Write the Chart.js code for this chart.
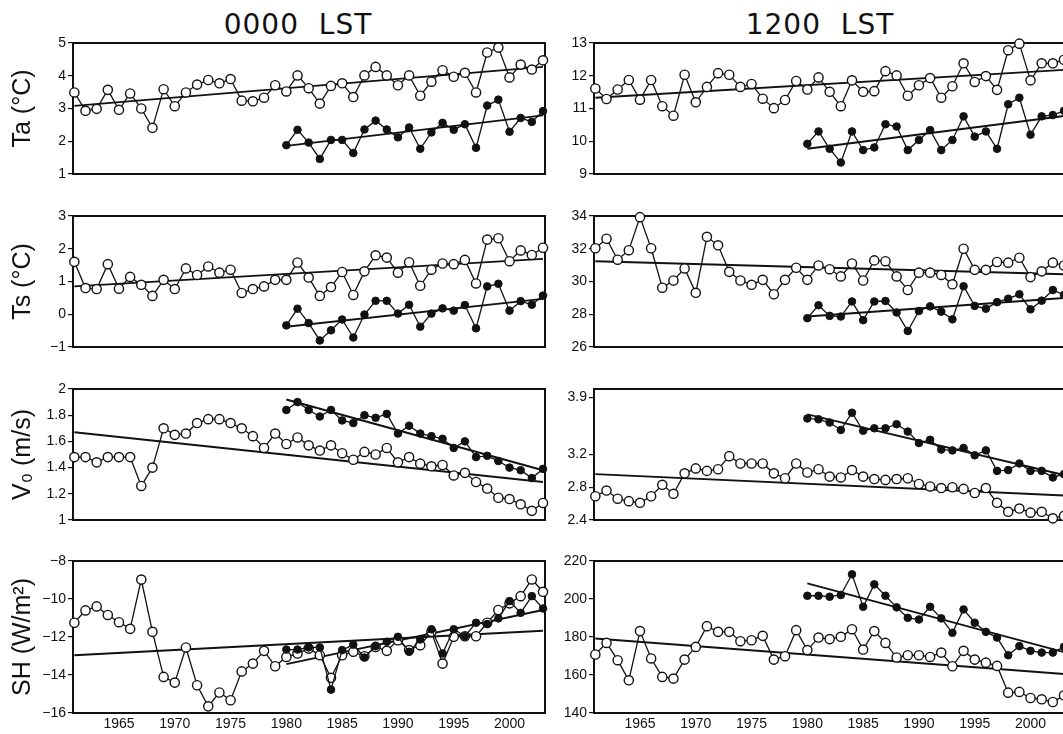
<!DOCTYPE html>
<html>
<head>
<meta charset="utf-8">
<script src="https://cdn.jsdelivr.net/npm/chart.js@4.4.1/dist/chart.umd.min.js"></script>
<style>
  body { margin: 0; width: 1063px; height: 734px; overflow: hidden; background: #fff; position: relative; }
  canvas { position: absolute; }
  .colTitle {
    position: absolute; top: 10px; width: 300px; height: 30px; line-height: 30px;
    text-align: center; font-family: "DejaVu Sans", sans-serif; font-size: 28px;
    letter-spacing: 1px; white-space: pre; color: #111;
  }
</style>
</head>
<body>
<div class="colTitle" style="left:148px">0000  LST</div>
<div class="colTitle" style="left:670px">1200  LST</div>

<canvas id="c00"></canvas><canvas id="c01"></canvas>
<canvas id="c10"></canvas><canvas id="c11"></canvas>
<canvas id="c20"></canvas><canvas id="c21"></canvas>
<canvas id="c30"></canvas><canvas id="c31"></canvas>

<script>
/* YEARS */

const years = [1961, 1962, 1963, 1964, 1965, 1966, 1967, 1968, 1969, 1970,
  1971, 1972, 1973, 1974, 1975, 1976, 1977, 1978, 1979, 1980,
  1981, 1982, 1983, 1984, 1985, 1986, 1987, 1988, 1989, 1990,
  1991, 1992, 1993, 1994, 1995, 1996, 1997, 1998, 1999, 2000,
  2001, 2002, 2003];
const yearsSince1980 = years.slice(19);
const openTrendYears = [1961, 2003];
const filledTrendYears = [1980, 2003];
const xTicks = [1965, 1970, 1975, 1980, 1985, 1990, 1995, 2000];

/* Ta */

const taOpen0000 = [3.49, 2.93, 2.99, 3.57, 2.96, 3.46, 3.00, 2.41, 3.59, 3.07,
  3.49, 3.73, 3.87, 3.77, 3.90, 3.24, 3.22, 3.33, 3.71, 3.52,
  4.01, 3.62, 3.15, 3.69, 3.77, 3.35, 4.01, 4.27, 4.01, 3.71,
  4.01, 3.39, 3.82, 4.17, 3.97, 4.09, 3.49, 4.71, 4.86, 3.95,
  4.34, 4.19, 4.47];
const taFilled0000 = [1.88, 2.35, 1.96, 1.46, 2.04, 2.04, 1.64, 2.36, 2.63, 2.36,
  2.12, 2.42, 1.77, 2.27, 2.56, 2.35, 2.52, 1.80, 3.09, 3.27,
  2.29, 2.71, 2.59, 2.92];
const taOpenTrend0000 = [3.08, 4.27];
const taFilledTrend0000 = [1.86, 2.79];

const taOpen1200 = [11.61, 11.29, 11.58, 11.87, 11.27, 11.87, 11.07, 10.78, 12.03, 11.19,
  11.66, 12.08, 12.03, 11.66, 11.75, 11.30, 11.01, 11.26, 11.84, 11.58,
  11.95, 11.51, 11.07, 11.86, 11.51, 11.53, 12.14, 12.01, 11.39, 11.71,
  11.93, 11.33, 11.68, 12.38, 11.81, 11.99, 11.57, 12.78, 12.98, 11.86,
  12.38, 12.38, 12.49];
const taFilled1200 = [9.92, 10.30, 9.77, 9.35, 10.30, 9.73, 9.81, 10.52, 10.45, 9.73,
  10.04, 10.34, 9.73, 10.04, 10.76, 10.14, 10.30, 9.77, 11.13, 11.33,
  10.20, 10.76, 10.80, 10.93];
const taOpenTrend1200 = [11.33, 12.18];
const taFilledTrend1200 = [9.77, 10.77];

/* Ts */

const tsOpen0000 = [1.60, 0.80, 0.77, 1.53, 0.78, 1.14, 0.90, 0.56, 1.05, 0.77,
  1.40, 1.20, 1.46, 1.27, 1.36, 0.65, 0.77, 0.85, 1.05, 1.05,
  1.58, 1.12, 0.56, 0.83, 1.29, 0.59, 1.31, 1.80, 1.73, 1.27,
  1.59, 0.87, 1.36, 1.55, 1.53, 1.66, 0.94, 2.28, 2.32, 1.62,
  1.95, 1.81, 2.03];
const tsFilled0000 = [-0.34, 0.17, -0.27, -0.80, -0.49, -0.16, -0.71, -0.01, 0.41, 0.41,
  0.02, 0.29, -0.38, 0.02, 0.18, 0.11, 0.28, -0.43, 0.85, 0.93,
  0.11, 0.40, 0.29, 0.57];
const tsOpenTrend0000 = [0.85, 1.69];
const tsFilledTrend0000 = [-0.38, 0.47];

const tsOpen1200 = [32.03, 32.61, 31.33, 31.91, 33.93, 32.03, 29.62, 30.06, 30.80, 29.31,
  32.73, 32.21, 30.59, 30.06, 29.80, 30.10, 29.22, 30.10, 30.84, 30.10,
  30.98, 30.75, 30.31, 31.10, 30.06, 31.29, 31.24, 30.31, 29.48, 30.54,
  30.54, 30.40, 29.83, 32.00, 30.71, 30.71, 31.19, 31.15, 31.45, 30.27,
  30.62, 31.15, 30.98];
const tsFilled1200 = [27.76, 28.55, 27.90, 27.86, 28.78, 27.64, 28.78, 28.81, 28.11, 26.98,
  28.20, 28.48, 28.16, 27.69, 29.71, 28.51, 28.34, 28.74, 28.95, 29.22,
  28.30, 28.83, 29.48, 29.18];
const tsOpenTrend1200 = [31.24, 30.44];
const tsFilledTrend1200 = [27.86, 28.99];

/* V0 */

const vOpen0000 = [1.48, 1.48, 1.44, 1.48, 1.48, 1.48, 1.26, 1.40, 1.70, 1.65,
  1.66, 1.74, 1.77, 1.77, 1.74, 1.70, 1.64, 1.55, 1.66, 1.58,
  1.63, 1.57, 1.53, 1.57, 1.51, 1.46, 1.52, 1.50, 1.55, 1.44,
  1.48, 1.43, 1.41, 1.42, 1.34, 1.36, 1.29, 1.24, 1.17, 1.16,
  1.12, 1.07, 1.13];
const vFilled0000 = [1.84, 1.90, 1.84, 1.79, 1.84, 1.76, 1.74, 1.80, 1.78, 1.81,
  1.66, 1.72, 1.66, 1.64, 1.62, 1.55, 1.60, 1.48, 1.49, 1.45,
  1.40, 1.38, 1.32, 1.39];
const vOpenTrend0000 = [1.67, 1.29];
const vFilledTrend0000 = [1.92, 1.38];

const vOpen1200 = [2.69, 2.76, 2.66, 2.63, 2.61, 2.69, 2.83, 2.72, 2.97, 3.03,
  3.00, 3.02, 3.18, 3.09, 3.09, 3.09, 2.97, 2.91, 3.09, 2.98,
  3.02, 2.93, 2.92, 3.01, 2.93, 2.90, 2.89, 2.90, 2.91, 2.84,
  2.81, 2.79, 2.80, 2.78, 2.73, 2.79, 2.61, 2.50, 2.54, 2.49,
  2.50, 2.42, 2.45];
const vFilled1200 = [3.64, 3.63, 3.59, 3.50, 3.71, 3.49, 3.52, 3.52, 3.57, 3.48,
  3.34, 3.38, 3.26, 3.25, 3.28, 3.19, 3.25, 3.00, 3.01, 3.09,
  3.00, 3.00, 2.92, 2.96];
const vOpenTrend1200 = [2.96, 2.70];
const vFilledTrend1200 = [3.69, 2.95];

/* SH */

const shOpen0000 = [-11.25, -10.60, -10.39, -10.84, -11.22, -11.57, -8.98, -11.73, -14.10, -14.40,
  -12.55, -14.54, -15.65, -14.92, -15.33, -13.81, -13.40, -12.73, -13.54, -13.05,
  -12.87, -12.61, -12.96, -14.15, -12.96, -12.78, -13.01, -12.52, -12.73, -12.17,
  -12.69, -12.43, -11.73, -13.40, -11.99, -11.96, -11.96, -11.25, -10.58, -10.23,
  -9.85, -8.97, -9.62];
const shFilled0000 = [-12.66, -12.66, -12.55, -12.55, -14.77, -12.69, -12.40, -13.08, -12.48, -12.25,
  -11.99, -12.78, -12.13, -11.59, -12.87, -11.59, -11.96, -11.25, -11.32, -11.02,
  -10.11, -10.73, -9.85, -10.50];
const shOpenTrend0000 = [-12.96, -11.67];
const shFilledTrend0000 = [-13.43, -10.58];

const shOpen1200 = [170.8, 176.9, 167.8, 157.2, 183.1, 168.7, 159.0, 158.1, 168.1, 174.8,
  185.7, 182.7, 182.7, 177.8, 178.3, 180.6, 168.1, 169.9, 183.6, 173.1,
  179.7, 178.9, 180.1, 184.1, 173.4, 183.1, 176.9, 169.2, 170.4, 170.4,
  169.5, 171.8, 164.6, 172.7, 168.1, 166.5, 164.8, 150.7, 151.1, 147.9,
  147.2, 145.8, 149.3];
const shFilled1200 = [201.7, 201.7, 201.2, 202.1, 213.0, 195.9, 207.7, 201.7, 195.6, 190.1,
  189.2, 195.9, 189.8, 182.2, 194.5, 187.5, 182.7, 179.7, 170.4, 175.2,
  172.7, 171.8, 171.8, 174.8];
const shOpenTrend1200 = [179.2, 160.5];
const shFilledTrend1200 = [208.2, 172.0];

/* TICK LABELS */

const taTicks0000 = [1, 2, 3, 4, 5];
const taTicks1200 = [9, 10, 11, 12, 13];
const tsTicks0000 = [-1, 0, 1, 2, 3];
const tsTicks1200 = [26, 28, 30, 32, 34];
const vTicks0000 = [1, 1.2, 1.4, 1.6, 1.8, 2];
const vTicks1200 = [2.4, 2.8, 3.2, 3.9];
const shTicks0000 = [-16, -14, -12, -10, -8];
const shTicks1200 = [140, 160, 180, 200, 220];

/* PANELS */

const panels = [
  { id: "c00", row: 0, col: 0, label: "Ta (°C)", min: 1, max: 5, ticks: taTicks0000,
    open: taOpen0000, filled: taFilled0000, openTrend: taOpenTrend0000, filledTrend: taFilledTrend0000 },
  { id: "c01", row: 0, col: 1, label: "", min: 9, max: 13, ticks: taTicks1200,
    open: taOpen1200, filled: taFilled1200, openTrend: taOpenTrend1200, filledTrend: taFilledTrend1200 },
  { id: "c10", row: 1, col: 0, label: "Ts (°C)", min: -1, max: 3, ticks: tsTicks0000,
    open: tsOpen0000, filled: tsFilled0000, openTrend: tsOpenTrend0000, filledTrend: tsFilledTrend0000 },
  { id: "c11", row: 1, col: 1, label: "", min: 26, max: 34, ticks: tsTicks1200,
    open: tsOpen1200, filled: tsFilled1200, openTrend: tsOpenTrend1200, filledTrend: tsFilledTrend1200 },
  { id: "c20", row: 2, col: 0, label: "V\u2080 (m/s)", min: 1, max: 2, ticks: vTicks0000,
    open: vOpen0000, filled: vFilled0000, openTrend: vOpenTrend0000, filledTrend: vFilledTrend0000 },
  { id: "c21", row: 2, col: 1, label: "", min: 2.4, max: 4.0, ticks: vTicks1200,
    open: vOpen1200, filled: vFilled1200, openTrend: vOpenTrend1200, filledTrend: vFilledTrend1200 },
  { id: "c30", row: 3, col: 0, label: "SH (W/m\u00b2)", min: -16, max: -8, ticks: shTicks0000,
    open: shOpen0000, filled: shFilled0000, openTrend: shOpenTrend0000, filledTrend: shFilledTrend0000 },
  { id: "c31", row: 3, col: 1, label: "", min: 140, max: 220, ticks: shTicks1200,
    open: shOpen1200, filled: shFilled1200, openTrend: shOpenTrend1200, filledTrend: shFilledTrend1200 }
];

/* LAYOUT */

const rowTops = [43, 216, 389, 561];
const plotH = 152;
const plotW = 472;
const padTop = 12;
const colLeft = [0, 545];
const axisW = [73, 49];
const colWidth = [551, 530];

const framePlugin = {
  id: "frame",
  beforeDatasetsDraw(chart) {
    const a = chart.chartArea;
    const ctx = chart.ctx;
    ctx.save();
    ctx.strokeStyle = "#111";
    ctx.lineWidth = 2;
    ctx.strokeRect(a.left, a.top, a.right - a.left, a.bottom - a.top);
    ctx.restore();
  }
};

function toPoints(xs, ys) {
  return xs.map((x, i) => ({ x: x, y: ys[i] }));
}

function minusSign(v) {
  return String(v).replace("-", "\u2212");
}

panels.forEach((p) => {
  const canvas = document.getElementById(p.id);
  const isBottom = p.row === 3;
  const top = rowTops[p.row] - padTop;
  const height = isBottom ? 734 - top : padTop + plotH + 12;

  canvas.width = colWidth[p.col];
  canvas.height = height;
  canvas.style.left = colLeft[p.col] + "px";
  canvas.style.top = top + "px";

  new Chart(canvas, {
    type: "line",
    data: {
      datasets: [
        {
          data: toPoints(yearsSince1980, p.filled),
          borderColor: "#111",
          borderWidth: 1.3,
          pointRadius: 3.8,
          pointBackgroundColor: "#111",
          pointBorderColor: "#111",
          pointBorderWidth: 1,
          clip: false
        },
        {
          data: toPoints(years, p.open),
          borderColor: "#111",
          borderWidth: 1.3,
          pointRadius: 4.6,
          pointBackgroundColor: "#fff",
          pointBorderColor: "#111",
          pointBorderWidth: 1.4,
          clip: false
        },
        {
          data: toPoints(filledTrendYears, p.filledTrend),
          borderColor: "#111",
          borderWidth: 1.9,
          pointRadius: 0
        },
        {
          data: toPoints(openTrendYears, p.openTrend),
          borderColor: "#111",
          borderWidth: 1.9,
          pointRadius: 0
        }
      ]
    },
    options: {
      responsive: false,
      animation: false,
      layout: {
        padding: { top: padTop, bottom: isBottom ? 0 : 12, left: 0, right: colWidth[p.col] - axisW[p.col] - plotW }
      },
      plugins: {
        legend: { display: false },
        tooltip: { enabled: false }
      },
      scales: {
        x: {
          type: "linear",
          min: 1960.88,
          max: 2003.18,
          display: isBottom,
          afterBuildTicks: (s) => { s.ticks = xTicks.map((v) => ({ value: v })); },
          afterFit: (s) => { s.height = 734 - (rowTops[3] + plotH); },
          grid: { display: false, drawTicks: false },
          border: { display: false },
          ticks: {
            color: "#111",
            padding: 3,
            maxRotation: 0,
            font: { family: "Liberation Sans", size: 14 },
            callback: (v) => String(v)
          }
        },
        y: {
          min: p.min,
          max: p.max,
          afterBuildTicks: (s) => { s.ticks = p.ticks.map((v) => ({ value: v })); },
          afterFit: (s) => { s.width = axisW[p.col]; },
          grid: { display: true, drawOnChartArea: false, tickLength: 5, color: "#111", lineWidth: 1.2 },
          border: { display: false },
          ticks: {
            color: "#111",
            padding: 2,
            font: { family: "Liberation Sans", size: 14 },
            callback: (v) => minusSign(v)
          },
          title: {
            display: p.label !== "",
            text: p.label,
            color: "#111",
            padding: { top: 8, bottom: 0 },
            font: { family: "Liberation Sans", size: 25 }
          }
        }
      }
    },
    plugins: [framePlugin]
  });
});
</script>
</body>
</html>
